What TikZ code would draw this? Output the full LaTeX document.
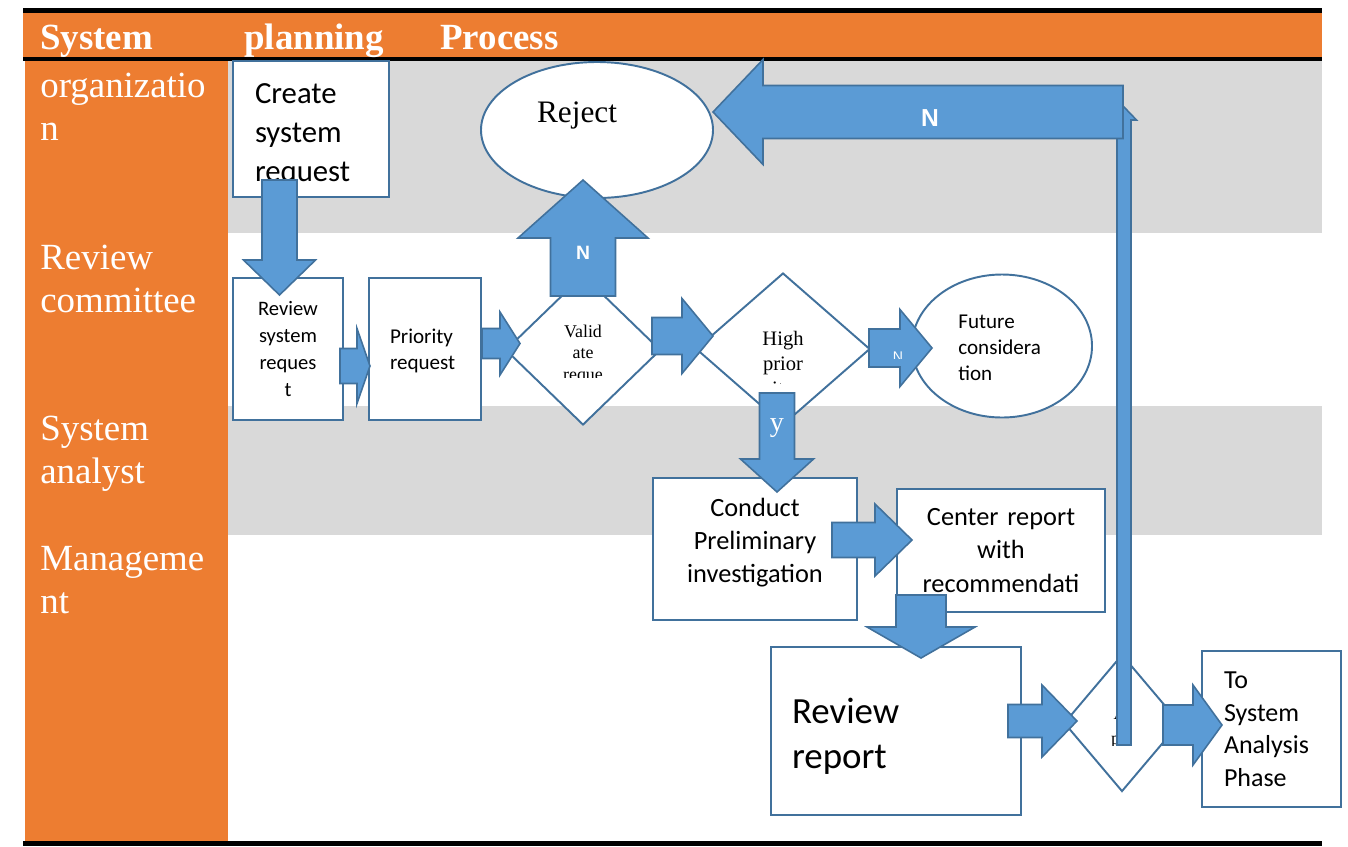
\documentclass[tikz,border=0pt]{standalone}
\usepackage{fontspec}
\setmainfont{Liberation Serif}
\newfontfamily\calibri{Carlito}
\newfontfamily\arialfont{Liberation Sans}
\usetikzlibrary{shapes.geometric}

\definecolor{barorange}{RGB}{237,125,49}
\definecolor{lanegray}{RGB}{217,217,217}
\definecolor{boxline}{RGB}{65,113,156}
\definecolor{arrowfill}{RGB}{91,155,213}

\newdimen\pxu \pxu=0.02cm

%% block arrow: tip, direction, length, head length, shaft half width, head half width
\newcommand{\barrow}[6]{%
  \draw[blockarrow, shift={(#1)}, rotate=#2]
    (0,0) -- (-#4,#6) -- (-#4,#5) -- (-#3,#5) -- (-#3,-#5) -- (-#4,-#5) -- (-#4,-#6) -- cycle;}

\tikzset{
  lanebox/.style={draw=boxline, line width=1.1pt, fill=white, inner sep=0pt},
  decision/.style={diamond, draw=boxline, line width=1.1pt, fill=white, inner sep=0pt},
  oval/.style={ellipse, draw=boxline, line width=1.1pt, fill=white, inner sep=0pt},
  blockarrow/.style={draw=boxline, line width=0.9pt, fill=arrowfill, line join=miter},
  lanelabel/.style={anchor=base west, align=left, text=white, inner sep=0pt,
    font=\fontsize{21pt}{24.3pt}\selectfont},
  headlabel/.style={anchor=base west, text=white, inner sep=0pt,
    font=\bfseries\fontsize{21pt}{24pt}\selectfont},
  arrowtag/.style={text=white, inner sep=0pt, font=\arialfont\bfseries}
}

\begin{document}
\begin{tikzpicture}[x=0.02cm, y=-0.02cm]
    \useasboundingbox (0,0) rectangle (1348,846);

    %% lanes
    \fill[lanegray] (228,61) rectangle (1322,233);
    \fill[lanegray] (228,406) rectangle (1322,535);
    \fill[barorange] (23,12) rectangle (1322,57);
    \fill[barorange] (25,61) rectangle (228,841);
    \fill[black] (23,8) rectangle (1322,12.5);
    \fill[black] (23,57) rectangle (1322,61);
    \fill[black] (23,841) rectangle (1322,846);

    \node[headlabel] (hsys) at (40,49) {System};
    \node[headlabel] (hplan) at (244,49) {planning};
    \node[headlabel] (hproc) at (440,49) {Process};

    %% base = last line
    \node[lanelabel] (orglabel) at (40,140) {organizatio\\n};
    \node[lanelabel] (revlabel) at (40,312) {Review\\committee};
    \node[lanelabel] (analabel) at (40,483) {System\\analyst};
    \node[lanelabel] (mgtlabel) at (40,613) {Manageme\\nt};

    %% steps
    \node[lanebox, minimum width={156*\pxu}, minimum height={136*\pxu}] (create) at (311,129) {};
        \node[text width={112*\pxu}, align=left, inner sep=0pt,
            font=\calibri\fontsize{17.5pt}{22.2pt}\selectfont] (createtxt) at (311,135) {Create\\system\\request};
    \node[lanebox, minimum width={110*\pxu}, minimum height={142*\pxu}, text width={90*\pxu}, align=center,
        font=\calibri\fontsize{11.7pt}{15.4pt}\selectfont] (review) at (288,349) {Review\\system\\reques\\t};
    \node[lanebox, minimum width={112*\pxu}, minimum height={142*\pxu}] (priority) at (425,349) {};
        \node[text width={70*\pxu}, align=left, inner sep=0pt,
            font=\calibri\fontsize{12pt}{14.8pt}\selectfont] (prioritytxt) at (425,351) {Priority\\request};
    \node[lanebox, minimum width={204*\pxu}, minimum height={142*\pxu}] (conduct) at (755,549) {};
        \node[text width={180*\pxu}, align=center, inner sep=0pt,
            font=\calibri\fontsize{15pt}{18.8pt}\selectfont] (conducttxt) at (755,543) {Conduct\\Preliminary\\investigation};
    \node[lanebox, minimum width={208*\pxu}, minimum height={123*\pxu}, text width={190*\pxu}, align=center,
        font=\calibri\fontsize{15pt}{18.8pt}\selectfont] (center) at (1001,550.5) {Center report\\with\\recommendati};
    \node[lanebox, minimum width={250*\pxu}, minimum height={168*\pxu}] (reviewrep) at (896,731) {};
        \node[text width={208*\pxu}, align=left, inner sep=0pt,
            font=\calibri\fontsize{21pt}{25.6pt}\selectfont] (reviewreptxt) at (896,736) {Review\\report};
    \node[lanebox, minimum width={139*\pxu}, minimum height={156*\pxu}, text width={95*\pxu}, align=left,
        font=\calibri\fontsize{14.8pt}{18.5pt}\selectfont] (tosys) at (1271.5,729) {To\\System\\Analysis\\Phase};

    \node[oval, minimum width={232*\pxu}, minimum height={136*\pxu}] (reject) at (597,130) {};
        \node[font=\fontsize{17.8pt}{20pt}\selectfont] (rejecttxt) at (577,115) {Reject};
    \node[oval, minimum width={180*\pxu}, minimum height={143*\pxu}] (future) at (1002,346) {};
        \node[anchor=west, align=left, inner sep=0pt, font=\calibri\fontsize{12pt}{14.8pt}\selectfont]
            (futuretxt) at (958,348) {Future\\considera\\tion};

    \node[decision, minimum width={155*\pxu}, minimum height={150*\pxu}] (valid) at (583,350) {};
    \node[decision, minimum width={174*\pxu}, minimum height={152*\pxu}] (high) at (783,349) {};
    \node[decision, minimum width={116*\pxu}, minimum height={137*\pxu}] (approve) at (1122,723) {};

    %% text cut off inside the diamonds
    \begin{scope}
        \clip (540,300) rectangle (630,377);
        \node[anchor=base, align=center, inner sep=0pt, font=\fontsize{10.2pt}{12pt}\selectfont]
            (validtxt) at (583,380) {Valid\\ate\\reque};
    \end{scope}
    \begin{scope}
        \clip (740,300) rectangle (830,383);
        \node[anchor=base, align=center, inner sep=0pt, font=\fontsize{11.7pt}{14pt}\selectfont]
            (hightxt) at (783,395) {High\\prior\\ity};
    \end{scope}
    \begin{scope}
        \clip (1095,690) rectangle (1150,745);
        \node[anchor=base, align=center, inner sep=0pt, font=\fontsize{10.2pt}{14pt}\selectfont]
            (approvetxt) at (1120,744) {A\\pp};
    \end{scope}

    %% flow
    \barrow{279.5,295}{-90}{115}{35}{17.5}{36}
    \barrow{370,366}{0}{30}{13}{17.5}{37.5}
    \barrow{520,343.5}{0}{38}{20}{15}{31.5}
    \barrow{713,336}{0}{61}{31}{18.5}{37.5}
    \barrow{583,180}{90}{116}{58}{32.5}{65}
    \barrow{932,348}{0}{63}{32}{19}{38.5}
    \barrow{777,492}{-90}{99}{33}{17.5}{36.5}
    \barrow{912,540}{0}{80}{37}{17.5}{36}
    \barrow{921,658}{-90}{63}{31}{25}{54}
    \barrow{1077,721}{0}{69}{35}{16.5}{36}
    \barrow{1222,725}{0}{59}{29}{20}{40}
    \barrow{1124,107}{90}{638}{13}{7}{12.5}
    \barrow{713,112}{180}{410}{50}{26.5}{52.5}

    \node[arrowtag, font=\arialfont\bfseries\fontsize{14pt}{16pt}\selectfont] (nreject) at (930,118) {N};
    \node[arrowtag, font=\arialfont\bfseries\fontsize{11pt}{13pt}\selectfont] (nvalid) at (583,253) {N};
    \node[arrowtag, font=\fontsize{16pt}{18pt}\selectfont] (yhigh) at (777,428) {y};
    \begin{scope}
        \clip (660,320) rectangle (695,345);
        \node[arrowtag, font=\arialfont\fontsize{9pt}{10pt}\selectfont] (yvalid) at (677,352) {Y};
    \end{scope}
    \begin{scope}
        \clip (880,335) rectangle (915,358);
        \node[arrowtag, font=\arialfont\fontsize{8pt}{10pt}\selectfont] (nhigh) at (898,357) {N};
    \end{scope}

\end{tikzpicture}
\end{document}
